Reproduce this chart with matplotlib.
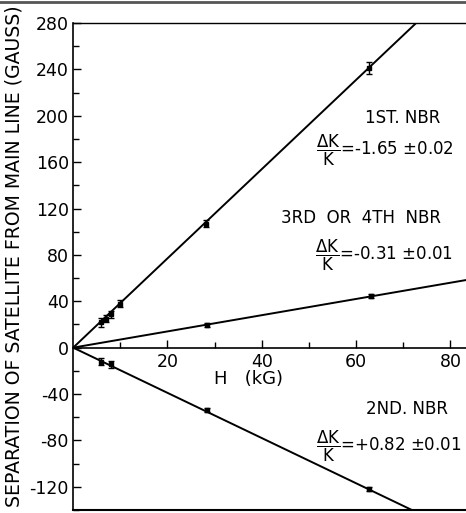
import matplotlib
matplotlib.use('Agg')
import matplotlib.pyplot as plt
import numpy as np
from matplotlib.lines import Line2D

plt.rcParams['font.family'] = 'DejaVu Sans'
plt.rcParams['mathtext.fontset'] = 'dejavusans'

# measured points, H in kG, separation in gauss
h_first = [5.8, 7.0, 8.0, 9.9, 28.2, 62.7]
sep_first = [22, 25, 29, 38, 107, 241]
err_first = [4, 3, 3, 3, 3, 5]

h_third = [28.3, 63.1]
sep_third = [19.5, 44.5]
err_third = [1.5, 1.5]

h_second = [5.8, 8.0, 28.3, 62.8]
sep_second = [-12, -14.5, -54, -122]
err_second = [3, 3, 1.5, 2]

# fitted slopes (gauss per kG)
slope_first = 3.85
slope_third = 0.70
slope_second = -1.95

fig = plt.figure(figsize=(4.66, 5.13), dpi=100)
ax = fig.add_axes([0.157, 0.006, 0.85, 0.949])

h_fit = np.array([0, 90])
ax.plot(h_fit, slope_first * h_fit, color='black', lw=1.4)
ax.plot(h_fit, slope_third * h_fit, color='black', lw=1.4)
ax.plot(h_fit, slope_second * h_fit, color='black', lw=1.4)

for h, s, e in [(h_first, sep_first, err_first), (h_third, sep_third, err_third),
                (h_second, sep_second, err_second)]:
    ax.errorbar(h, s, yerr=e, fmt='s', color='black', ms=3, capsize=2, elinewidth=1, capthick=1)

ax.set_xlim(0, 84)
ax.set_ylim(-140, 280)
ax.set_xticks([20, 40, 60, 80])
ax.set_xticks([10, 30, 50, 70], minor=True)
ax.set_yticks(np.arange(-120, 281, 40))
ax.set_yticks(np.arange(-140, 281, 20), minor=True)
ax.set_yticklabels(['-120', '-80', '-40', '0', '40', '80', '120', '160', '200', '240', '280'])

ax.spines['bottom'].set_position(('data', 0))
ax.spines['bottom'].set_linewidth(1.2)
ax.spines['right'].set_visible(False)
ax.spines['left'].set_linewidth(1.2)
ax.spines['top'].set_linewidth(1.0)
ax.plot([0, 1], [0, 0], transform=ax.transAxes, color='black', lw=1.5, clip_on=False)

ax.tick_params(axis='both', which='both', direction='in', labelsize=12.5)
ax.tick_params(axis='both', which='major', length=6, width=1)
ax.tick_params(axis='both', which='minor', length=4, width=1)
ax.tick_params(axis='y', pad=3)
ax.tick_params(axis='x', pad=4)

ax.text(29.8, -19.5, 'H   (kG)', fontsize=13, ha='left', va='top')

fig.text(0.03, 0.5, 'SEPARATION OF SATELLITE FROM MAIN LINE (GAUSS)', rotation=90,
         fontsize=13.6, ha='center', va='center')

ax.text(61.8, 198, '1ST. NBR', fontsize=12, va='center')
ax.text(51.4, 170, r'$\dfrac{\mathrm{\Delta K}}{\mathrm{K}}$=-1.65 ±0.02', fontsize=12, va='center')
ax.text(44.1, 112, '3RD  OR  4TH  NBR', fontsize=12, va='center')
ax.text(51.2, 80, r'$\dfrac{\mathrm{\Delta K}}{\mathrm{K}}$=-0.31 ±0.01', fontsize=12, va='center')
ax.text(62, -53, '2ND. NBR', fontsize=12, va='center')
ax.text(51.4, -85, r'$\dfrac{\mathrm{\Delta K}}{\mathrm{K}}$=+0.82 ±0.01', fontsize=12, va='center')

fig.add_artist(Line2D([0, 1], [0.997, 0.997], color='#555555', lw=2))

fig.savefig('out.png', dpi=100)
